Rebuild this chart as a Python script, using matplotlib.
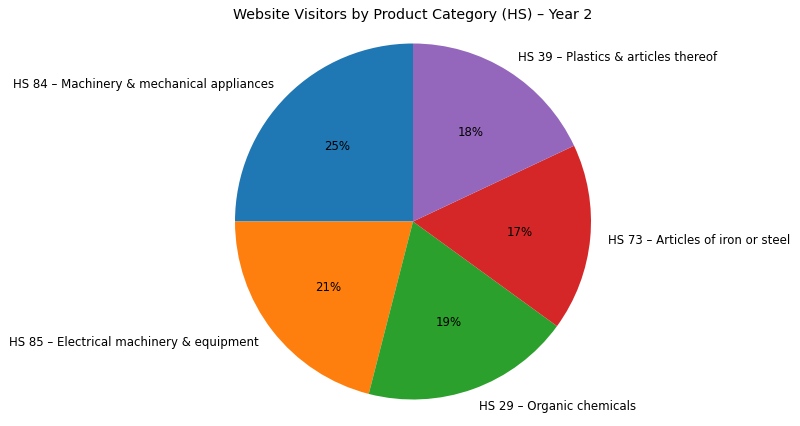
import matplotlib.pyplot as plt

categories = [
    "HS 84 – Machinery & mechanical appliances",
    "HS 85 – Electrical machinery & equipment",
    "HS 29 – Organic chemicals",
    "HS 73 – Articles of iron or steel",
    "HS 39 – Plastics & articles thereof",
]
visitors = [25, 21, 19, 17, 18]

W, H = 800, 427
cx, cy, rad = 413, 222.5, 178  # pie centre / radius in pixels

fig = plt.figure(figsize=(W / 100, H / 100), dpi=100)
ax = fig.add_axes([0, 0, 1, 1])

ax.pie(
    visitors,
    labels=categories,
    autopct="%1.0f%%",
    startangle=90,
    textprops={"fontsize": 8.45},
)
ax.set_xlim(-cx / rad, (W - cx) / rad)
ax.set_ylim(-(H - cy) / rad, cy / rad)
ax.axis("off")

fig.text(413 / W, 1 - 15 / H, "Website Visitors by Product Category (HS) – Year 2",
         ha="center", va="center", fontsize=10.26)

fig.savefig("out.png", dpi=100)
